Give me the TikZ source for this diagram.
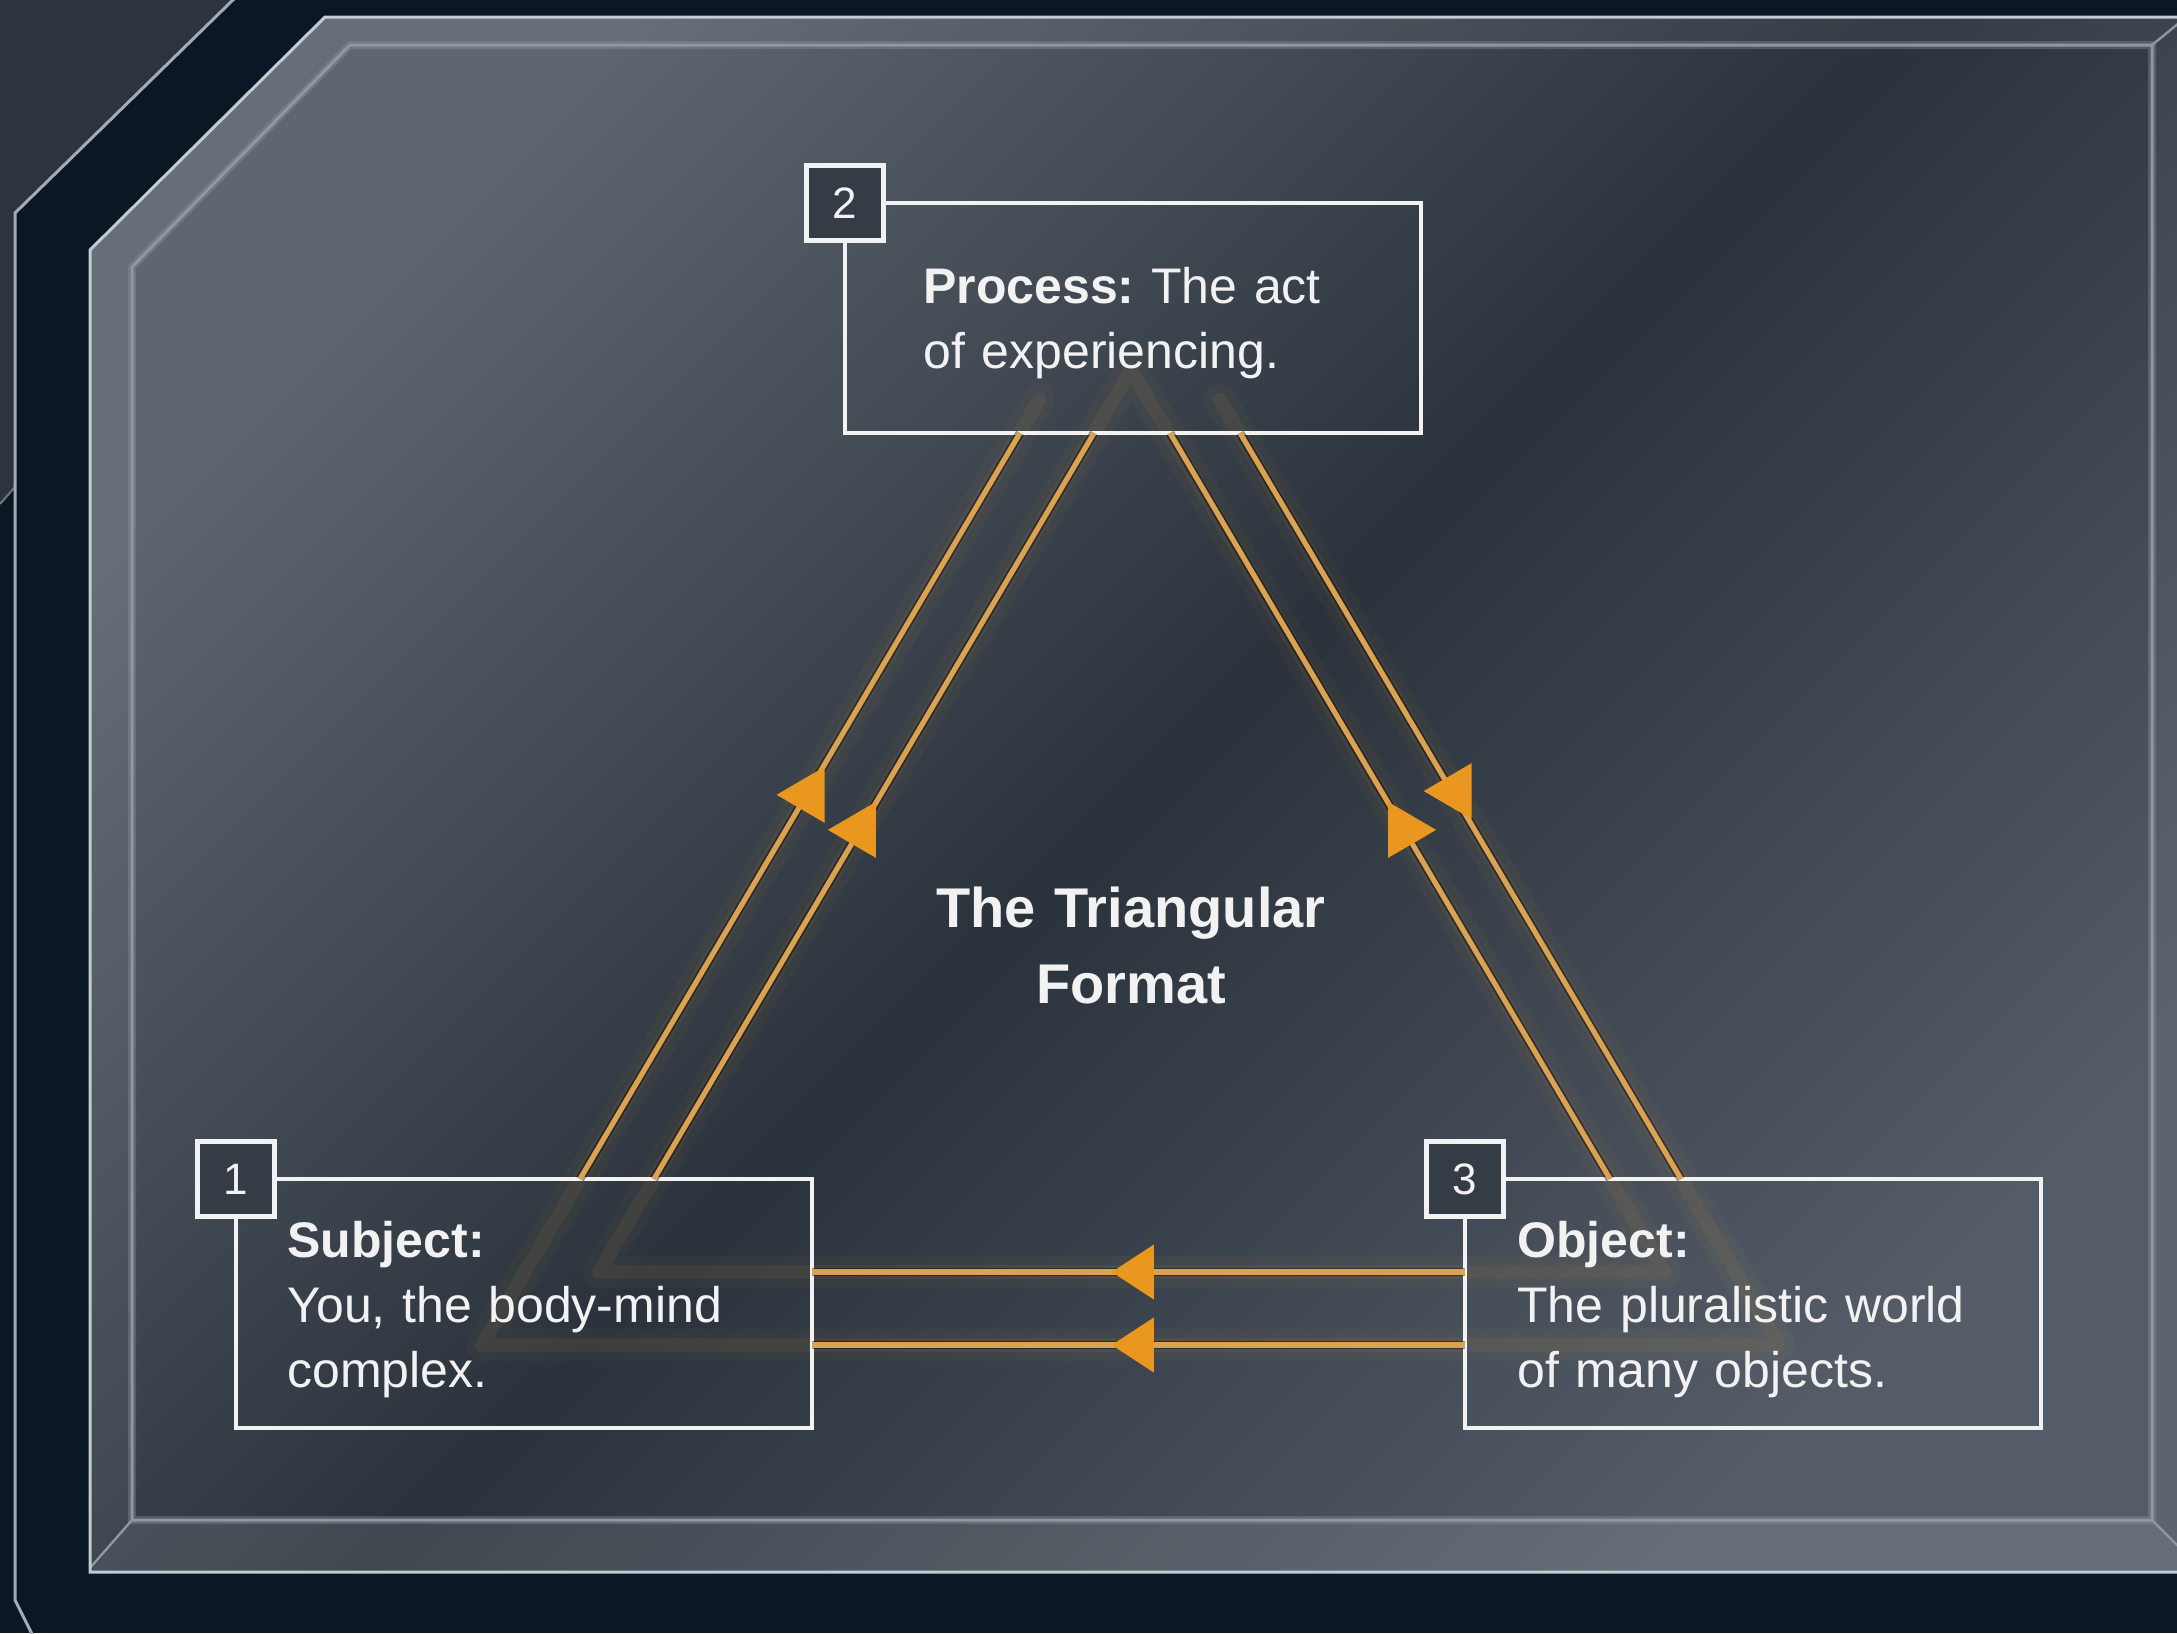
\documentclass[tikz,border=0pt]{standalone}
\usepackage{fontspec}
\setmainfont{Liberation Sans}
\frenchspacing
\usetikzlibrary{calc}
\definecolor{navy}{HTML}{0C1725}
\definecolor{cornergray}{HTML}{2C343E}
\definecolor{frameline}{HTML}{A3ACB5}
\definecolor{panellight}{HTML}{5E6770}
\definecolor{paneldark}{HTML}{2A323C}
\definecolor{panelbr}{HTML}{545D67}
\definecolor{bevel}{HTML}{8E98A2}
\definecolor{rim}{HTML}{C4CBD2}
\definecolor{boxwhite}{HTML}{F2F2F2}
\definecolor{linkorange}{HTML}{DBA351}
\definecolor{tipfill}{HTML}{E9971F}
\definecolor{glowc}{HTML}{E0A040}
\definecolor{squarefill}{HTML}{343C46}
\tikzset{
  infobox/.style={draw=boxwhite, line width=2.25pt, inner sep=0pt, outer sep=0pt, minimum width=288pt},
  numbox/.style={draw=boxwhite, line width=2.25pt, fill=squarefill, minimum width=38.5pt, minimum height=37.5pt, inner sep=0pt, text=boxwhite, font=\fontsize{22}{26}\selectfont},
  bodytext/.style={text=boxwhite, inner sep=0pt, text width=250pt, align=left, anchor=base west, font=\fontsize{25}{32.5}\selectfont},
  titletext/.style={text=boxwhite, inner sep=0pt, text width=300pt, align=center, anchor=base, font=\bfseries\fontsize{28}{38}\selectfont},
  link/.style={draw=linkorange, line width=2.6pt, preaction={draw=black, opacity=0.4, line width=4.4pt}},
  glowwide/.style={draw=glowc, line width=16pt, opacity=0.045, line join=round, line cap=round},
  glownarrow/.style={draw=glowc, line width=7pt, opacity=0.07, line join=round, line cap=round},
  pics/tipleft/.style={code={\fill[tipfill] (-32,0) -- (16,-28) -- (16,28) -- cycle;}},
  pics/tipright/.style={code={\fill[tipfill] (32,0) -- (-16,-28) -- (-16,28) -- cycle;}},
  pics/tipflat/.style={code={\fill[tipfill] (-28,0) -- (14,-27.5) -- (14,27.5) -- cycle;}},
}
\begin{document}
\begin{tikzpicture}[x=0.5pt,y=-0.5pt]
\useasboundingbox (0,0) rectangle (2177,1633);
\clip (0,0) rectangle (2177,1633);
% background
\fill[navy] (0,0) rectangle (2177,1633);
\fill[cornergray] (0,0) -- (233,0) -- (15,213) -- (15,487) -- (0,504) -- cycle;
\draw[frameline, line width=1.5pt] (238,-5) -- (15,213) -- (15,1600) -- (35,1640);
\draw[frameline, line width=1pt, opacity=0.6] (0,504) -- (15,487);
% glass panel
\shade[top color=panellight, bottom color=panelbr, middle color=paneldark, shading angle=45]
  (325,17) -- (2190,17) -- (2190,1572) -- (90,1572) -- (90,250) -- cycle;
\fill[white, opacity=0.05, even odd rule]
  (325,17) -- (2190,17) -- (2190,1572) -- (90,1572) -- (90,250) -- cycle
  (350,45) -- (2152,45) -- (2152,1520) -- (132,1520) -- (132,267) -- cycle;
\fill[white, opacity=0.06] (132,1520) -- (2152,1520) -- (2190,1558) -- (2190,1572) -- (90,1572) -- cycle;
\draw[bevel, line width=4pt, opacity=0.35] (350,45) -- (2152,45) -- (2152,1520) -- (132,1520) -- (132,267) -- cycle;
\draw[bevel, line width=1.5pt] (350,45) -- (2152,45) -- (2152,1520) -- (132,1520) -- (132,267) -- cycle;
\draw[bevel, line width=1.2pt] (132,1520) -- (90,1568) (2152,1520) -- (2190,1558) (2152,45) -- (2190,14);
\draw[rim, line width=1.5pt] (2190,17) -- (325,17) -- (90,250) -- (90,1572) -- (2190,1572);
% glow
\draw[glowwide] (1131,370) -- (599,1272) -- (1665,1272) -- cycle;
\draw[glownarrow] (1131,370) -- (599,1272) -- (1665,1272) -- cycle;
\draw[glowwide] (1039,400) -- (482,1345) -- (1779,1345) -- (1220,400);
\draw[glownarrow] (1039,400) -- (482,1345) -- (1779,1345) -- (1220,400);
% boxes
\node[infobox, minimum height=115pt] (proc) at (1133,318) {};
\node[infobox, minimum height=124.5pt] (subj) at (524,1303.5) {};
\node[infobox, minimum height=124.5pt] (obj) at (1753,1303.5) {};
% connectors
\coordinate (a1) at ($(subj.north west)+(344,0)$);
\coordinate (a2) at ($(proc.south west)+(175,0)$);
\coordinate (b1) at ($(subj.north west)+(418,0)$);
\coordinate (b2) at ($(proc.south west)+(249,0)$);
\coordinate (c1) at ($(obj.north west)+(145,0)$);
\coordinate (c2) at ($(proc.south west)+(325,0)$);
\coordinate (d1) at ($(proc.south west)+(395,0)$);
\coordinate (d2) at ($(obj.north west)+(216,0)$);
\coordinate (e1) at ($(obj.west)+(0,-31.5)$);
\coordinate (e2) at ($(subj.east)+(0,-31.5)$);
\coordinate (f1) at ($(obj.west)+(0,41.5)$);
\coordinate (f2) at ($(subj.east)+(0,41.5)$);
\draw[link] (a1) -- (a2);
\draw[link] (b1) -- (b2);
\draw[link] (c1) -- (c2);
\draw[link] (d1) -- (d2);
\draw[link] (e1) -- (e2);
\draw[link] (f1) -- (f2);
\pic at ($(a1)!0.515!(a2)+(2,0)$) {tipleft};
\pic at ($(b1)!0.468!(b2)$) {tipleft};
\pic at ($(c1)!0.468!(c2)$) {tipright};
\pic at ($(d1)!0.48!(d2)+(4,0)$) {tipleft};
\pic at ($(e1)!0.498!(e2)$) {tipflat};
\pic at ($(f1)!0.498!(f2)$) {tipflat};
% number squares
\node[numbox] (n2) at (proc.north west) {2};
\node[numbox] (n1) at (subj.north west) {1};
\node[numbox] (n3) at (obj.north west) {3};
% texts
\node[bodytext] (proctext) at (923,303) {\textbf{Process:} The act\\of experiencing.};
\node[bodytext] (subjtext) at (287,1257) {\textbf{Subject:}\\You, the body-mind\\complex.};
\node[bodytext] (objtext) at (1517,1257) {\textbf{Object:}\\The pluralistic world\\of many objects.};
\node[titletext] (title) at (1131,927) {The Triangular\\Format};
\end{tikzpicture}
\end{document}
